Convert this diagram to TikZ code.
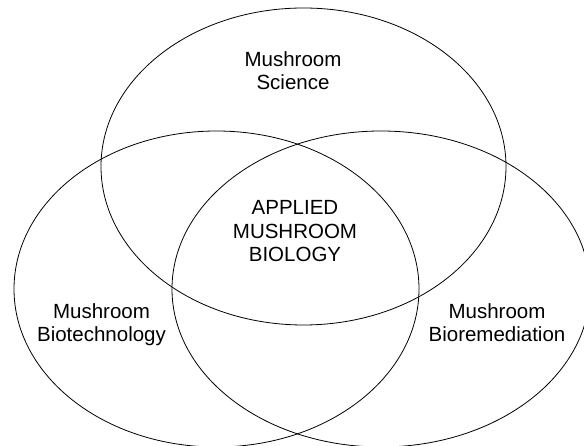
\documentclass[tikz,border=0pt]{standalone}
\usepackage{fontspec}
\setmainfont{Liberation Sans}
\begin{document}
\begin{tikzpicture}[x=1pt,y=1pt,
  circleline/.style={draw=black,line width=0.8pt},
  venntext/.style={align=center,inner sep=0pt,
    font=\fontsize{20.5}{23.5}\selectfont}]
  \useasboundingbox (0,0) rectangle (584,446);
  \clip (0,0) rectangle (584,446);
  % three overlapping fields
  \draw[circleline] (303.5,279.5) ellipse [x radius=202.5, y radius=158.5];
  \draw[circleline] (216.5,157) ellipse [x radius=202.5, y radius=158];
  \draw[circleline] (381,157) ellipse [x radius=209, y radius=158];
  % labels
  \node[venntext] (science) at (293,375.5) {Mushroom\\Science};
  \node[venntext] (applied) at (295,214.5) {APPLIED\\MUSHROOM\\BIOLOGY};
  \node[venntext] (biotech) at (101.5,121.5) {Mushroom\\Biotechnology};
  \node[venntext] (biorem) at (497,123.5) {Mushroom\\Bioremediation};
\end{tikzpicture}
\end{document}
